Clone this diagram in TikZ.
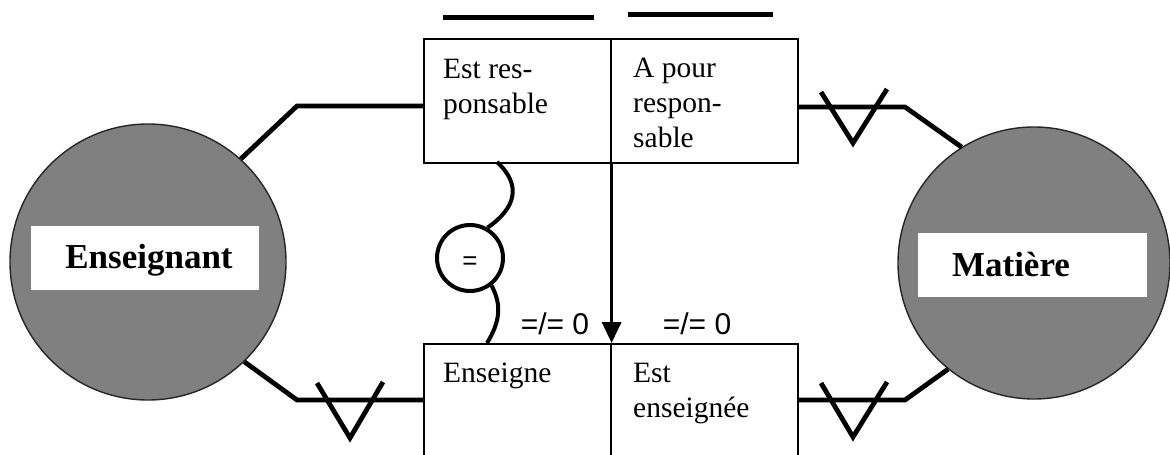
\documentclass[tikz,border=0pt]{standalone}
\usepackage{fontspec}
\setmainfont{Liberation Serif}
\newfontfamily\arialf{Liberation Sans}
\usetikzlibrary{arrows.meta}
\definecolor{entgray}{RGB}{128,128,128}
\begin{document}
\begin{tikzpicture}[x=1pt,y=-1pt,
  ent/.style={circle, draw=black!85, line width=1.4pt, fill=entgray, minimum size=#1, inner sep=0pt},
  lbl/.style={fill=white, inner sep=0pt},
  relbox/.style={draw, line width=1.6pt, minimum width=187pt, inner sep=0pt, anchor=north west},
  conn/.style={line width=4.8pt},
  boxtxt/.style={anchor=north west, inner sep=0pt, align=left, font=\fontsize{29.5}{35}\selectfont},
  card/.style={anchor=base, inner sep=0pt, font=\arialf\fontsize{30}{30}\selectfont},
  enttxt/.style={anchor=base, inner sep=0pt, font=\bfseries\fontsize{35}{35}\selectfont}
]
\clip (0,0) rectangle (1170,455);
\fill[white] (0,0) rectangle (1170,455);

% entities
\node[ent=276pt] (ens) at (148,262) {};
\node[lbl, minimum width=228pt, minimum height=64pt] (enslbl) at (145,258) {};
\node[enttxt] (enstxt) at (149,268) {Enseignant};

\node[ent=272pt] (mat) at (1034,263) {};
\node[lbl, minimum width=229pt, minimum height=64pt] (matlbl) at (1032.5,265) {};
\node[enttxt] (mattxt) at (1011,276) {Matière};

% relation boxes
\node[relbox, minimum height=124pt] (tl) at (423,38) {};
\node[relbox, minimum height=124pt] (tr) at (610,38) {};
\node[relbox, minimum height=140pt] (bl) at (423,343) {};
\node[relbox, minimum height=140pt] (br) at (610,343) {};

\node[boxtxt] (t1) at (443,58.5) {Est res-\\ponsable};
\node[boxtxt] (t2) at (633,58) {A pour\\respon-\\sable};
\node[boxtxt] (t3) at (443,362.5) {Enseigne};
\node[boxtxt] (t4) at (633,363) {Est\\enseignée};

% overlines
\draw[line width=5pt] (443,17) -- (594,17);
\draw[line width=5pt] (628,14) -- (773,14);

% arrow between roles
\draw[line width=3.5pt, -{Triangle[length=21pt,width=19pt]}] (tl.south east) -- (bl.north east);

% cardinalities
\node[card] (c1) at (555,334) {=/= 0};
\node[card] (c2) at (697,334) {=/= 0};

% equality constraint
\node[circle, draw, line width=4pt, minimum size=66pt, inner sep=0pt] (eq) at (470,258) {};
\node[inner sep=0pt, font=\arialf\fontsize{26}{26}\selectfont] (eqtxt) at (470,263) {=};
\coordinate (s1) at (497,162);
\coordinate (s2) at (487,343);
\draw[line width=4pt] (s1) .. controls (522,185) and (516,208) .. (eq.60);
\draw[line width=4pt] (eq.-52) .. controls (502,305) and (500,322) .. (s2);

% connectors
\coordinate (a1) at (297,106);
\coordinate (a2) at (297,400);
\coordinate (a3) at (905,107);
\coordinate (a4) at (905,400);
\draw[conn] (ens.48) -- (a1) -- (a1 -| tl.west);
\draw[conn] (ens.-46.5) -- (a2) -- (a2 -| bl.west);
\draw[conn] (a3 -| tr.east) -- (a3) -- (mat.122);
\draw[conn] (a4 -| br.east) -- (a4) -- (mat.231);

% cardinality marks
\draw[conn] (317,383) -- (350,438) -- (383,382);
\draw[conn] (821,92) -- (853,143) -- (887,89);
\draw[conn] (821,383) -- (853,437) -- (887,382);
\end{tikzpicture}
\end{document}
